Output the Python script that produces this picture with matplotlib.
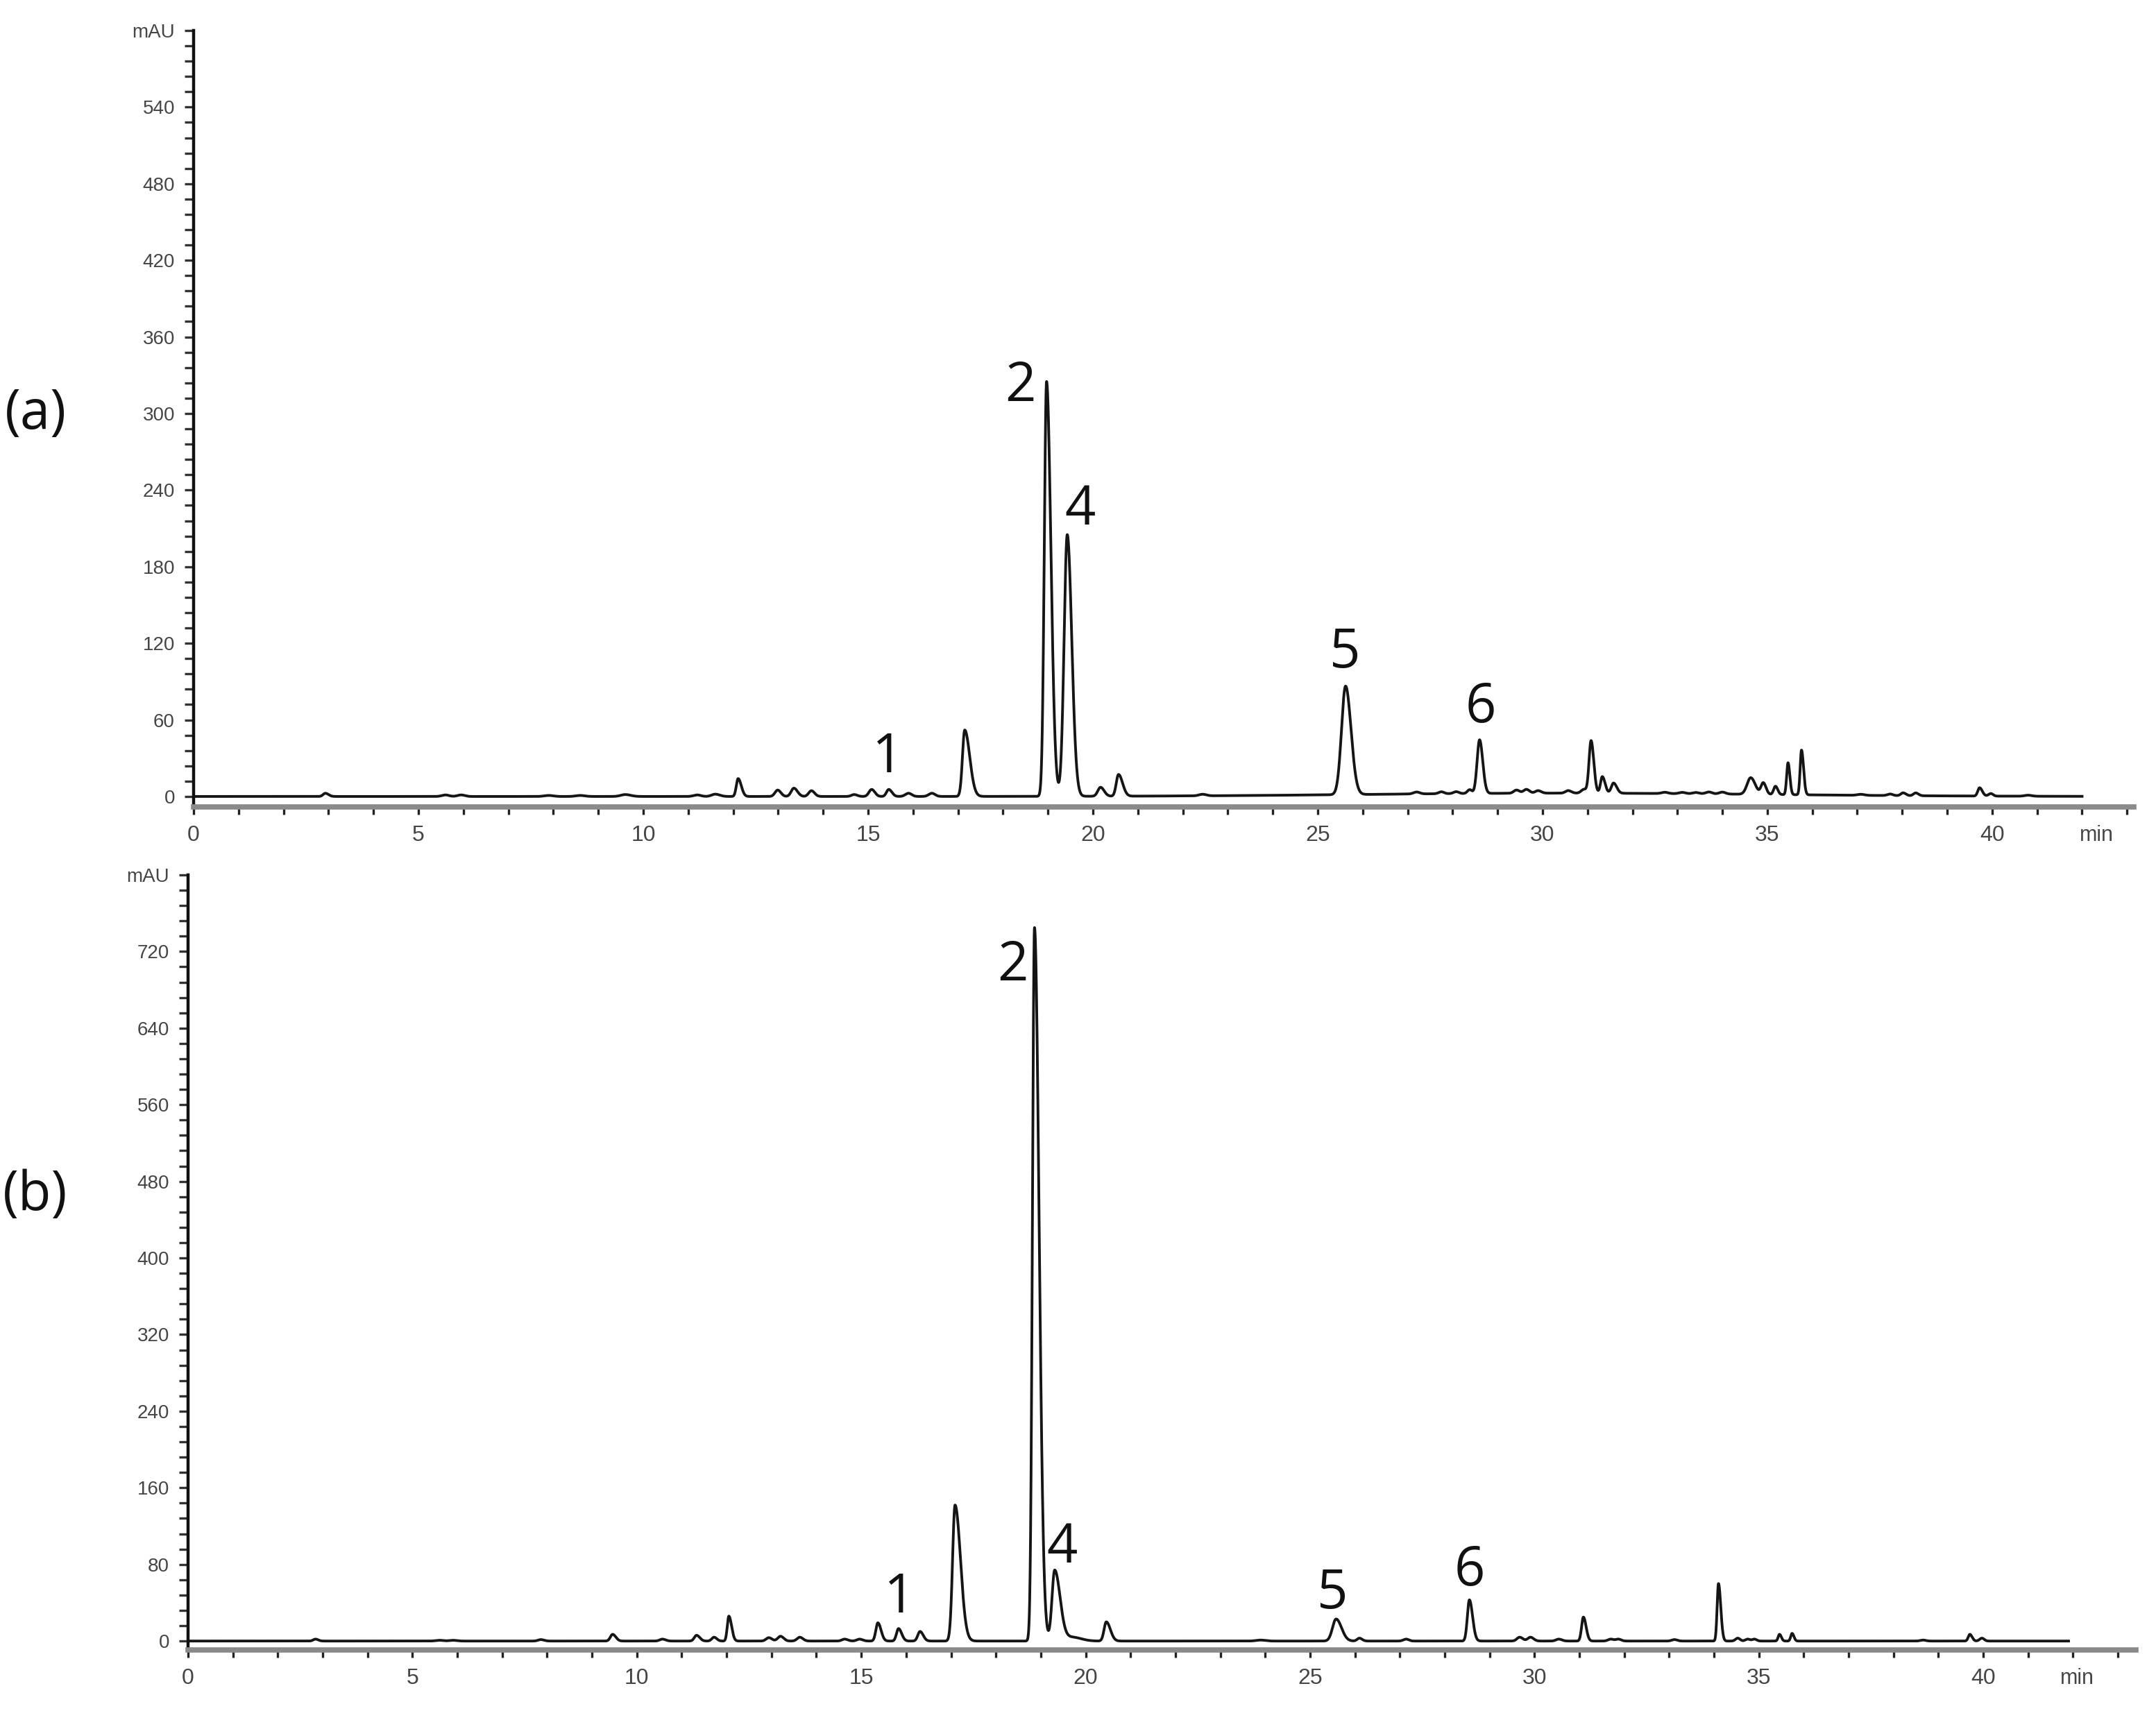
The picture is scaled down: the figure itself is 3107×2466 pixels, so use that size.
import numpy as np
import matplotlib.pyplot as plt

# ---- panel (a): peak table ----
# retention time (min), height (mAU), left sigma, right sigma (min)
a_rt = [2.93, 5.6, 5.95, 7.9, 8.6, 9.6, 11.2, 11.6, 12.11, 12.99, 13.35, 13.74,
        14.69, 15.08, 15.46, 15.9, 16.42, 17.15, 18.97, 19.43, 20.17, 20.57,
        22.44, 25.62, 27.2, 27.75, 28.08, 28.38, 28.6, 29.42, 29.64, 29.9,
        30.57, 30.92, 31.08, 31.33, 31.58, 32.72, 33.11, 33.41, 33.7, 34.0,
        34.63, 34.91, 35.18, 35.46, 35.76, 37.08, 37.73, 38.02, 38.3, 39.72,
        39.97, 40.8, 30.5]
a_h = [2.5, 1.2, 1.2, 0.8, 0.8, 1.5, 1.2, 1.8, 14, 5, 6.5, 4.5,
       1.5, 5.5, 5.5, 2.5, 2.5, 52, 325, 205, 7, 17,
       1.2, 85, 1.5, 1.5, 1.5, 3, 42, 2.5, 3, 2,
       2, 3, 41, 13, 8, 1, 1, 1, 1.5, 1.5,
       13, 9, 6.5, 25, 35, 0.8, 1.2, 2.2, 2.2, 6.5,
       2, 0.8, 2.6]
a_sl = [0.05, 0.08, 0.08, 0.1, 0.1, 0.1, 0.08, 0.08, 0.04, 0.06, 0.06, 0.06,
        0.06, 0.06, 0.05, 0.07, 0.07, 0.05, 0.05, 0.07, 0.06, 0.05,
        0.08, 0.09, 0.07, 0.06, 0.06, 0.05, 0.055, 0.06, 0.06, 0.06,
        0.06, 0.06, 0.045, 0.04, 0.05, 0.07, 0.07, 0.07, 0.07, 0.07,
        0.08, 0.05, 0.04, 0.03, 0.03, 0.08, 0.06, 0.05, 0.05, 0.04,
        0.05, 0.08, 4.5]
a_sr = [0.07, 0.08, 0.08, 0.1, 0.1, 0.12, 0.08, 0.1, 0.07, 0.07, 0.08, 0.07,
        0.07, 0.07, 0.07, 0.07, 0.07, 0.11, 0.095, 0.1, 0.08, 0.09,
        0.08, 0.12, 0.07, 0.06, 0.06, 0.05, 0.07, 0.07, 0.07, 0.07,
        0.07, 0.07, 0.06, 0.06, 0.07, 0.07, 0.07, 0.07, 0.07, 0.07,
        0.1, 0.06, 0.05, 0.04, 0.045, 0.08, 0.06, 0.06, 0.06, 0.06,
        0.05, 0.08, 4.5]
a_end = 42.0

# ---- panel (b) ----
b_rt = [2.84, 5.6, 5.9, 7.86, 9.46, 10.57, 11.33, 11.72, 12.05, 12.94, 13.2,
        13.63, 14.63, 14.96, 15.37, 15.83, 16.31, 17.09, 18.86, 19.31, 19.7,
        20.46, 23.9, 25.58, 26.1, 27.14, 28.55, 29.67, 29.91, 30.54, 31.09,
        31.7, 31.87, 33.12, 34.1, 34.53, 34.75, 34.9, 35.46, 35.74, 38.66,
        39.7, 39.97]
b_h = [2, 0.8, 0.8, 1.5, 7, 2, 6, 4, 26, 3.5, 5,
       4, 2, 2, 19, 13, 10, 142, 745, 74, 4,
       20, 1, 23, 3, 2, 43, 4, 4, 2, 25,
       2, 2, 1.5, 60, 3, 2, 2, 7, 8, 1,
       7, 3]
b_sl = [0.05, 0.08, 0.08, 0.06, 0.05, 0.06, 0.05, 0.05, 0.035, 0.06, 0.06,
        0.06, 0.06, 0.06, 0.045, 0.045, 0.05, 0.055, 0.045, 0.06, 0.15,
        0.05, 0.1, 0.08, 0.05, 0.06, 0.045, 0.06, 0.06, 0.06, 0.04,
        0.06, 0.06, 0.06, 0.03, 0.05, 0.05, 0.05, 0.03, 0.03, 0.06,
        0.035, 0.05]
b_sr = [0.06, 0.08, 0.08, 0.07, 0.07, 0.07, 0.07, 0.06, 0.06, 0.07, 0.07,
        0.07, 0.07, 0.07, 0.07, 0.07, 0.07, 0.12, 0.1, 0.12, 0.2,
        0.09, 0.1, 0.12, 0.06, 0.06, 0.07, 0.07, 0.07, 0.07, 0.06,
        0.06, 0.06, 0.06, 0.05, 0.05, 0.05, 0.05, 0.04, 0.04, 0.06,
        0.05, 0.05]
b_end = 41.9

# peak labels: text, time, baseline height (mAU)
a_lab = ["1", "2", "4", "5", "6"]
a_lab_t = [15.43, 18.39, 19.72, 25.6, 28.62]
a_lab_y = [19, 310, 213, 101, 58]
b_lab = ["1", "2", "4", "5", "6"]
b_lab_t = [15.85, 18.37, 19.48, 25.5, 28.55]
b_lab_y = [30, 690, 82, 34, 58]


def trace(rt, h, sl, sr, t):
    y = np.zeros_like(t)
    for c, a, s1, s2 in zip(rt, h, sl, sr):
        s = np.where(t < c, s1, s2)
        y += a * np.exp(-0.5 * ((t - c) / s) ** 2)
    return y


def panel(ax, rt, h, sl, sr, t_end, ymax, ystep, yminor, ylow, xmax,
          labs, lab_t, lab_y, min_x):
    t = np.linspace(0, t_end, 12000)
    ax.plot(t, trace(rt, h, sl, sr, t), color='#151515', lw=2.8)
    ax.set_xlim(0, xmax)
    ax.set_ylim(ylow, ymax)
    for s in ['top', 'right']:
        ax.spines[s].set_visible(False)
    ax.spines['left'].set_linewidth(3.2)
    ax.spines['left'].set_color('#111111')
    ax.spines['bottom'].set_linewidth(5.5)
    ax.spines['bottom'].set_color('#8a8a8a')
    yt = list(np.arange(0, ymax + 1, ystep))
    ax.set_yticks(yt)
    ax.set_yticklabels([str(int(v)) for v in yt[:-1]] + ['mAU'])
    ax.set_yticks(np.arange(0, ymax + 1, yminor), minor=True)
    ax.set_xticks(np.arange(0, 41, 5))
    ax.set_xticks(np.arange(0, int(xmax) + 1, 1), minor=True)
    ax.tick_params(axis='y', which='both', direction='out', length=9.5,
                   width=2.4, color='#333333', labelsize=20,
                   labelcolor='#454545', pad=10)
    ax.tick_params(axis='x', which='both', direction='out', length=8,
                   width=2.4, color='#222222', labelsize=23,
                   labelcolor='#454545', pad=11)
    for s in ax.get_xticklabels() + ax.get_yticklabels():
        s.set_family('Liberation Sans')
    ax.annotate('min', xy=(min_x, 0), xycoords=('data', 'axes fraction'),
                xytext=(0, -19), textcoords='offset points', ha='center',
                va='top', fontsize=22, color='#454545',
                family='Liberation Sans')
    for s, x, y in zip(labs, lab_t, lab_y):
        ax.text(x, y, s, ha='center', va='baseline', fontsize=56,
                family='Open Sans', color='#111111')


W, H = 3107, 2466
fig = plt.figure(figsize=(W / 100, H / 100), dpi=100)

ax_a = fig.add_axes([279 / W, 1 - 1163 / H, (3075 - 279) / W, (1163 - 44) / H])
panel(ax_a, a_rt, a_h, a_sl, a_sr, a_end, 600, 60, 12, -8.2, 43.15,
      a_lab, a_lab_t, a_lab_y, 42.32)

ax_b = fig.add_axes([271 / W, 1 - 2378 / H, (3078 - 271) / W, (2378 - 1261) / H])
panel(ax_b, b_rt, b_h, b_sl, b_sr, b_end, 800, 80, 16, -9.3, 43.4,
      b_lab, b_lab_t, b_lab_y, 42.1)

fig.text(51 / W, 1 - 597 / H, '(a)', ha='center', va='center', fontsize=56,
         family='Open Sans', color='#111111')
fig.text(51 / W, 1 - 1723 / H, '(b)', ha='center', va='center', fontsize=56,
         family='Open Sans', color='#111111')

fig.savefig('out.png', dpi=100, facecolor='white')
